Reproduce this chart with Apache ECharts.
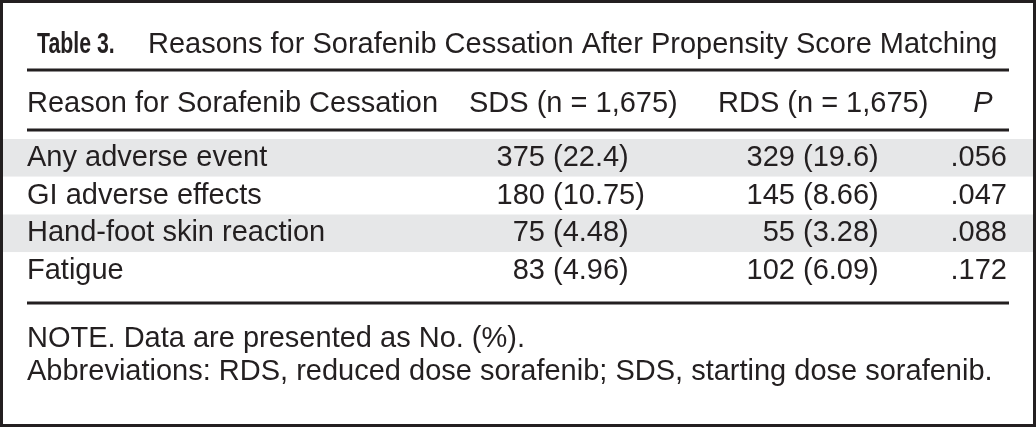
<!DOCTYPE html>
<html>
<head>
<meta charset="utf-8">
<script src="https://cdn.jsdelivr.net/npm/echarts@6/dist/echarts.min.js"></script>
<style>
html,body{margin:0;padding:0;background:#fff;}
#chart{width:1036px;height:427px;}
</style>
</head>
<body>
<div id="chart"></div>
<script>
// ---- data ----
const titleLabel = 'Table 3.';
const titleText = 'Reasons for Sorafenib Cessation After Propensity Score Matching';
const columnHeaders = ['Reason for Sorafenib Cessation', 'SDS (n = 1,675)', 'RDS (n = 1,675)', 'P'];
const reasons = ['Any adverse event', 'GI adverse effects', 'Hand-foot skin reaction', 'Fatigue'];
const sdsCounts = [375, 180, 75, 83];
const sdsPercents = ['22.4', '10.75', '4.48', '4.96'];
const rdsCounts = [329, 145, 55, 102];
const rdsPercents = ['19.6', '8.66', '3.28', '6.09'];
const pValues = ['.056', '.047', '.088', '.172'];
const notes = ['NOTE. Data are presented as No. (%).',
  'Abbreviations: RDS, reduced dose sorafenib; SDS, starting dose sorafenib.'];

// ---- layout / style ----
const INK = '#231f20';
const FONT = '"Liberation Sans", Arial, sans-serif';
const FS = 29;
const col = { label: 27, sdsCountR: 545, sdsPctL: 553, rdsCountR: 795, rdsPctL: 803, pR: 1007 };
const hdr = { y: 104, label: 27, sds: 469, rds: 718, pC: 983 };
const ruleX1 = 27, ruleX2 = 1009;

const chart = echarts.init(document.getElementById('chart'), null, { renderer: 'canvas' });

function txt(x, y, text, align, extra) {
  return Object.assign({
    type: 'text', x: x, y: y, silent: true,
    style: { text: text, fill: INK, font: FS + 'px ' + FONT, align: align || 'left', verticalAlign: 'middle' }
  }, extra || {});
}

const graphics = [
  // title
  { type: 'text', x: 37, y: 45, z: 10, scaleX: 0.71, scaleY: 1,
    style: { text: titleLabel, fill: INK, font: 'bold 30px ' + FONT, align: 'left', verticalAlign: 'middle' } },
  txt(148, 45, titleText, 'left', { z: 10 }),
  // rules
  { type: 'line', z: 10, shape: { x1: ruleX1, y1: 70, x2: ruleX2, y2: 70 }, style: { stroke: INK, lineWidth: 3 } },
  { type: 'line', z: 10, shape: { x1: ruleX1, y1: 130, x2: ruleX2, y2: 130 }, style: { stroke: INK, lineWidth: 3 } },
  { type: 'line', z: 10, shape: { x1: ruleX1, y1: 303, x2: ruleX2, y2: 303 }, style: { stroke: INK, lineWidth: 3 } },
  // header
  txt(hdr.label, hdr.y, columnHeaders[0], 'left', { z: 10 }),
  txt(hdr.sds, hdr.y, columnHeaders[1], 'left', { z: 10 }),
  txt(hdr.rds, hdr.y, columnHeaders[2], 'left', { z: 10 }),
  { type: 'text', x: hdr.pC, y: hdr.y, z: 10,
    style: { text: columnHeaders[3], fill: INK, font: 'italic ' + FS + 'px ' + FONT, align: 'center', verticalAlign: 'middle' } },
  // notes
  txt(27, 339, notes[0], 'left', { z: 10 }),
  txt(27, 372, notes[1], 'left', { z: 10 }),
  // outer frame
  { type: 'rect', z: 20, shape: { x: 1.5, y: 1.5, width: 1033, height: 424 },
    style: { fill: 'none', stroke: INK, lineWidth: 3 } }
];

const option = {
  backgroundColor: '#ffffff',
  animation: false,
  grid: { left: 0, right: 0, top: 139, height: 151 },
  xAxis: { type: 'value', min: 0, max: 1036, show: false },
  yAxis: {
    type: 'category', data: reasons, inverse: true,
    axisLine: { show: false }, axisTick: { show: false }, axisLabel: { show: false },
    splitLine: { show: false },
    splitArea: { show: true, areaStyle: { color: ['#e6e7e8', '#ffffff'] } }
  },
  graphic: graphics,
  series: [{
    type: 'custom',
    coordinateSystem: 'cartesian2d',
    data: reasons.map((r, i) => [0, i]),
    encode: { x: 0, y: 1 },
    renderItem: function (params, api) {
      const i = params.dataIndex;
      const yc = api.coord([0, i])[1];
      const X = (v) => api.coord([v, i])[0];
      return {
        type: 'group',
        children: [
          txt(X(col.label), yc, reasons[i], 'left'),
          txt(X(col.sdsCountR), yc, String(sdsCounts[i]), 'right'),
          txt(X(col.sdsPctL), yc, '(' + sdsPercents[i] + ')', 'left'),
          txt(X(col.rdsCountR), yc, String(rdsCounts[i]), 'right'),
          txt(X(col.rdsPctL), yc, '(' + rdsPercents[i] + ')', 'left'),
          txt(X(col.pR), yc, pValues[i], 'right')
        ]
      };
    }
  }]
};
chart.setOption(option);
</script>
</body>
</html>
